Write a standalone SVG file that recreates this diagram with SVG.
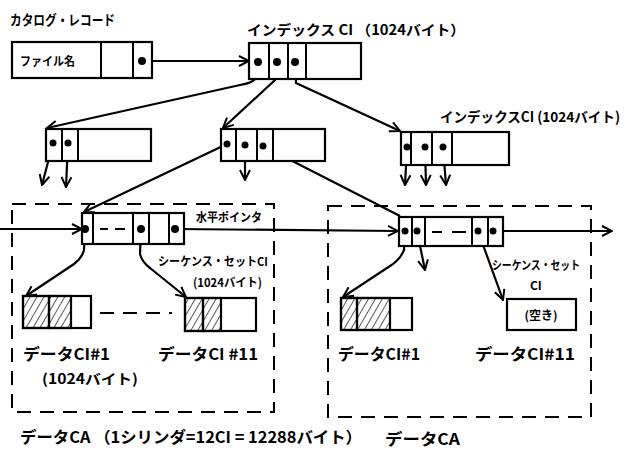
<svg xmlns="http://www.w3.org/2000/svg" width="626" height="454" viewBox="0 0 626 454">
<defs>
<marker id="ah" viewBox="0 0 12 12" refX="11" refY="6" markerWidth="12" markerHeight="12" markerUnits="userSpaceOnUse" orient="auto">
<path d="M1,1 L11,6 L1,11" fill="none" stroke="#000" stroke-width="2"/>
</marker>
<pattern id="hatch" patternUnits="userSpaceOnUse" width="6" height="6" patternTransform="rotate(30)">
<line x1="0" y1="0" x2="0" y2="6" stroke="#000" stroke-width="1.3"/>
</pattern>
</defs>
<style>
.box{fill:#fff;stroke:#000;stroke-width:2.2}
.hb{fill:url(#hatch);stroke:#000;stroke-width:2.2}
.div{stroke:#000;stroke-width:2}
.ln{fill:none;stroke:#000;stroke-width:2.2}
.ar{fill:none;stroke:#000;stroke-width:2.2;marker-end:url(#ah)}
.dash{fill:none;stroke:#000;stroke-width:2;stroke-dasharray:14 9}
.dot{fill:#000}
text{font-family:"Noto Sans CJK JP","Noto Sans",sans-serif;fill:#000;font-weight:bold}
.t{font-size:14px}
.s{font-size:12px}
.m{font-size:16px}
</style>
<rect width="626" height="454" fill="#fff"/>

<g id="connectors">
<path class="ar" d="M142,61 L249,61"/>
<path class="ar" d="M258,62 L255,79 Q252,83 240,85 L47,128"/>
<path class="ar" d="M277,62 L275,80 L223,128"/>
<path class="ar" d="M295,62 L296,83 L400,131"/>
<path class="ar" d="M53,143 L42,185"/>
<path class="ar" d="M68,143 L66,187"/>
<path class="ar" d="M245,145 L245,180"/>
<path class="ar" d="M227,144 L84,212"/>
<path class="ln" d="M263,146 L400,216"/>
<path class="ar" d="M407,147 L405,185"/>
<path class="ar" d="M425,147 L426,185"/>
<path class="ar" d="M443,147 L446,185"/>
<path class="ar" d="M0,229 L82,229"/>
<path class="ar" d="M175,229 L398,231"/>
<path class="ar" d="M493,231 L612,231"/>
<path class="ar" d="M85,229 L84,250 Q82,258 74,264 L26,296"/>
<path class="ar" d="M141,229 L140,254 Q142,262 150,268 L186,297"/>
<path class="ar" d="M405,231 L404,250 Q400,260 390,266 L343,297"/>
<path class="ar" d="M417,231 L425,270"/>
<path class="ar" d="M478,231 L503,300"/>
<path class="dash" d="M100,313 L172,313"/>
</g>

<g id="catalog">
<text class="t" x="10" y="25" textLength="105" lengthAdjust="spacingAndGlyphs">カタログ・レコード</text>
<rect class="box" x="12" y="42" width="140" height="36"/>
<line class="div" x1="101" y1="42" x2="101" y2="78"/>
<line class="div" x1="133" y1="42" x2="133" y2="78"/>
<circle class="dot" cx="142" cy="61" r="4"/>
<text class="s" x="20" y="66" textLength="55" lengthAdjust="spacingAndGlyphs">ファイル名</text>
</g>

<g id="indexTop">
<text class="t" x="247" y="35" textLength="218" lengthAdjust="spacingAndGlyphs">インデックス CI （1024バイト）</text>
<rect class="box" x="249" y="43" width="112" height="36"/>
<line class="div" x1="269" y1="43" x2="269" y2="79"/>
<line class="div" x1="288" y1="43" x2="288" y2="79"/>
<line class="div" x1="306" y1="43" x2="306" y2="79"/>
<circle class="dot" cx="258" cy="62" r="4"/>
<circle class="dot" cx="277" cy="62" r="4"/>
<circle class="dot" cx="295" cy="62" r="4"/>
</g>

<g id="indexLeft">
<rect class="box" x="46" y="129" width="105" height="32"/>
<line class="div" x1="62" y1="129" x2="62" y2="161"/>
<line class="div" x1="78" y1="129" x2="78" y2="161"/>
<circle class="dot" cx="53" cy="143" r="3.5"/>
<circle class="dot" cx="68" cy="143" r="3.5"/>
</g>

<g id="indexMid">
<rect class="box" x="221" y="129" width="104" height="32"/>
<line class="div" x1="236" y1="129" x2="236" y2="161"/>
<line class="div" x1="257" y1="129" x2="257" y2="161"/>
<line class="div" x1="273" y1="129" x2="273" y2="161"/>
<circle class="dot" cx="227" cy="144" r="3.5"/>
<circle class="dot" cx="245" cy="145" r="3.5"/>
<circle class="dot" cx="263" cy="146" r="3.5"/>
</g>

<g id="indexRight">
<text class="t" x="440" y="122" textLength="180" lengthAdjust="spacingAndGlyphs">インデックスCI (1024バイト)</text>
<rect class="box" x="401" y="132" width="108" height="33"/>
<line class="div" x1="411" y1="132" x2="411" y2="165"/>
<line class="div" x1="432" y1="132" x2="432" y2="165"/>
<line class="div" x1="452" y1="132" x2="452" y2="165"/>
<circle class="dot" cx="407" cy="147" r="3.5"/>
<circle class="dot" cx="425" cy="147" r="3.5"/>
<circle class="dot" cx="443" cy="147" r="3.5"/>
</g>

<g id="caLeft">
<rect class="dash" x="12" y="204" width="262" height="208"/>
<text class="m" x="20" y="443" textLength="342" lengthAdjust="spacingAndGlyphs">データCA （1シリンダ=12CI = 12288バイト）</text>
</g>

<g id="seqLeft">
<rect class="box" x="82" y="213" width="102" height="31"/>
<line class="div" x1="93" y1="213" x2="93" y2="244"/>
<line class="div" x1="133" y1="213" x2="133" y2="244"/>
<line class="div" x1="149" y1="213" x2="149" y2="244"/>
<line class="div" x1="169" y1="213" x2="169" y2="244"/>
<line class="div" x1="100" y1="229" x2="108" y2="229"/>
<line class="div" x1="115" y1="229" x2="125" y2="229"/>
<circle class="dot" cx="85" cy="229" r="4"/>
<circle class="dot" cx="141" cy="229" r="4"/>
<circle class="dot" cx="175" cy="229" r="4"/>
<text class="s" x="196" y="222" textLength="66" lengthAdjust="spacingAndGlyphs">水平ポインタ</text>
<text class="s" x="158" y="266" textLength="110" lengthAdjust="spacingAndGlyphs">シーケンス・セットCI</text>
<text class="s" x="193" y="287" textLength="69" lengthAdjust="spacingAndGlyphs">(1024バイト)</text>
</g>

<g id="dataL1">
<rect class="box" x="23" y="296" width="68" height="32"/>
<rect class="hb" x="23" y="296" width="26" height="32"/>
<rect class="hb" x="49" y="296" width="22" height="32"/>
<text class="m" x="23" y="360" textLength="87" lengthAdjust="spacingAndGlyphs">データCI#1</text>
<text class="t" x="42" y="384" textLength="96" lengthAdjust="spacingAndGlyphs">(1024バイト)</text>
</g>

<g id="dataL11">
<rect class="box" x="185" y="298" width="71" height="33"/>
<rect class="hb" x="185" y="298" width="18" height="33"/>
<rect class="hb" x="203" y="298" width="18" height="33"/>
<text class="m" x="158" y="360" textLength="100" lengthAdjust="spacingAndGlyphs">データCI #11</text>
</g>

<g id="caRight">
<rect class="dash" x="328" y="206" width="263" height="211"/>
<text class="m" x="385" y="445" textLength="75" lengthAdjust="spacingAndGlyphs">データCA</text>
</g>

<g id="seqRight">
<rect class="box" x="399" y="217" width="104" height="29"/>
<line class="div" x1="412" y1="217" x2="412" y2="246"/>
<line class="div" x1="425" y1="217" x2="425" y2="246"/>
<line class="div" x1="472" y1="217" x2="472" y2="246"/>
<line class="div" x1="488" y1="217" x2="488" y2="246"/>
<line class="div" x1="432" y1="232" x2="442" y2="232"/>
<line class="div" x1="452" y1="232" x2="466" y2="232"/>
<circle class="dot" cx="405" cy="231" r="3.5"/>
<circle class="dot" cx="417" cy="231" r="3.5"/>
<circle class="dot" cx="478" cy="231" r="3.5"/>
<circle class="dot" cx="493" cy="231" r="3.5"/>
<text class="s" x="492" y="270" textLength="88" lengthAdjust="spacingAndGlyphs">シーケンス・セット</text>
<text class="s" x="530" y="290">CI</text>
</g>

<g id="dataR1">
<rect class="box" x="341" y="298" width="71" height="32"/>
<rect class="hb" x="341" y="298" width="16" height="32"/>
<rect class="hb" x="357" y="298" width="33" height="32"/>
<text class="m" x="338" y="360" textLength="82" lengthAdjust="spacingAndGlyphs">データCI#1</text>
</g>

<g id="dataR11">
<rect class="box" x="507" y="299" width="69" height="31"/>
<text class="s" x="541" y="320" text-anchor="middle">(空き)</text>
<text class="m" x="475" y="360" textLength="100" lengthAdjust="spacingAndGlyphs">データCI#11</text>
</g>
</svg>
